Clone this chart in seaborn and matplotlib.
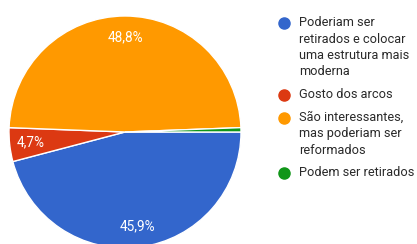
import matplotlib
matplotlib.use("Agg")
import matplotlib.pyplot as plt
from matplotlib.lines import Line2D
import seaborn as sns

# data
categories = [
    "Poderiam ser\nretirados e colocar\numa estrutura mais\nmoderna",
    "Gosto dos arcos",
    "São interessantes,\nmas poderiam ser\nreformados",
    "Podem ser retirados",
]
shares = [45.9, 4.7, 48.8, 0.6]
pct_labels = ["45,9%", "4,7%", "48,8%", ""]
colors = ["#3366cc", "#dc3912", "#ff9900", "#109618"]

sns.set_theme(style="white")
plt.rcParams["font.family"] = ["Roboto", "DejaVu Sans"]

W, H = 417, 244
fig = plt.figure(figsize=(W / 100, H / 100), dpi=100)
fig.patch.set_facecolor("white")

# pie centre ~ (125, 132) px, radius ~116 px
cx, cy, r = 125, 132, 116
ax = fig.add_axes([(cx - r) / W, (H - cy - r) / H, 2 * r / W, 2 * r / H])

wedges, texts = ax.pie(
    shares, colors=colors, startangle=0, counterclock=False,
    labels=pct_labels, labeldistance=0.82,
    wedgeprops=dict(edgecolor="white", linewidth=1.0),
    textprops=dict(color="white", fontsize=9.8),
)
for t in texts:
    t.set_ha("center")
    t.set_va("center")
ax.set_xlim(-1, 1)
ax.set_ylim(-1, 1)
ax.set_aspect("equal")
ax.axis("off")

# legend drawn by hand
lx_dot, lx_txt = 284, 299
line_h = 16.3
gap = 6.5
y = 23
for lab, col in zip(categories, colors):
    fig.add_artist(Line2D([lx_dot / W], [1 - y / H], marker="o", markersize=8,
                          color=col, transform=fig.transFigure))
    for k, line in enumerate(lab.split("\n")):
        fig.text(lx_txt / W, 1 - (y + k * line_h) / H, line, fontsize=9.2,
                 color="#2a2a2a", ha="left", va="center")
    y += len(lab.split("\n")) * line_h + gap

fig.savefig("out.png", dpi=100)
